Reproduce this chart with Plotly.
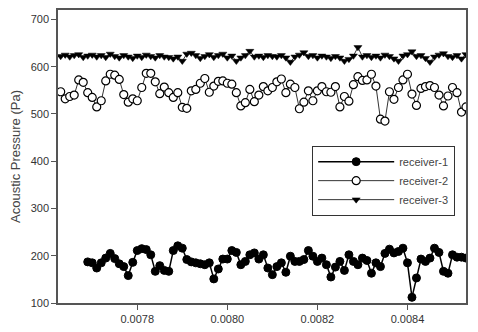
import numpy as np
import plotly.graph_objects as go

# time axis (s)
t2_start = 0.00763
t1_start = 0.00769
t_step = 1e-5

receiver_1 = [187, 185, 174, 185, 195, 205, 194, 183, 177, 158,
              186, 211, 215, 213, 202, 167, 179, 169, 167, 211,
              221, 216, 192, 187, 185, 183, 181, 185, 151, 172,
              193, 193, 211, 207, 181, 188, 202, 206, 193, 202,
              174, 160, 177, 185, 165, 199, 188, 188, 192, 211,
              199, 188, 195, 181, 155, 176, 188, 169, 202, 188,
              181, 195, 190, 163, 185, 177, 205, 214, 206, 209,
              216, 185, 112, 153, 193, 188, 195, 216, 207, 167,
              163, 202, 197, 197, 195]

receiver_2 = [547, 532, 537, 540, 572, 567, 545, 535, 515, 528,
              570, 584, 582, 573, 541, 525, 532, 528, 556, 586,
              586, 568, 543, 557, 545, 535, 545, 514, 512, 549,
              552, 565, 575, 546, 559, 569, 570, 565, 563, 545,
              517, 524, 552, 526, 540, 558, 549, 556, 568, 574,
              545, 563, 556, 511, 525, 549, 528, 549, 558, 547,
              546, 558, 515, 537, 527, 562, 579, 571, 572, 584,
              559, 489, 485, 547, 531, 556, 572, 584, 542, 518,
              554, 558, 560, 556, 540, 517, 538, 556, 545, 504,
              515]

receiver_3 = [622, 625, 621, 624, 626, 620, 623, 625, 621, 624,
              620, 627, 622, 619, 624, 621, 618, 623, 620, 625,
              622, 619, 624, 621, 620, 617, 621, 612, 627, 629,
              624, 618, 622, 626, 620, 624, 627, 619, 623, 612,
              619, 624, 633, 621, 623, 620, 624, 622, 621, 624,
              619, 610, 621, 625, 630, 622, 624, 619, 623, 621,
              618, 622, 619, 612, 616, 623, 641, 621, 624, 620,
              623, 619, 625, 622, 617, 612, 623, 626, 632, 622,
              624, 618, 610, 621, 625, 628, 622, 620, 624, 617,
              626]

x_ticks = [0.0078, 0.0080, 0.0082, 0.0084]
y_ticks = [100, 200, 300, 400, 500, 600, 700]

t1 = t1_start + t_step * np.arange(len(receiver_1))
t2 = t2_start + t_step * np.arange(len(receiver_2))
t3 = t2_start + t_step * np.arange(len(receiver_3))

fig = go.Figure()
fig.add_trace(go.Scatter(
    x=t1, y=receiver_1, name="receiver-1", mode="lines+markers",
    line=dict(color="black", width=1.5),
    marker=dict(symbol="circle", size=8, color="black", line=dict(color="black", width=1)),
))
fig.add_trace(go.Scatter(
    x=t2, y=receiver_2, name="receiver-2", mode="lines+markers",
    line=dict(color="#333333", width=1),
    marker=dict(symbol="circle", size=8, color="white", line=dict(color="black", width=1.2)),
))
fig.add_trace(go.Scatter(
    x=t3, y=receiver_3, name="receiver-3", mode="lines+markers",
    line=dict(color="#333333", width=1),
    marker=dict(symbol="triangle-down", size=7, color="black", line=dict(color="black", width=0.5)),
))

axis_common = dict(
    showline=True, linecolor="#555555", linewidth=1.5, mirror=True,
    ticks="outside", ticklen=5, tickcolor="#555555", tickwidth=1,
    showgrid=False, zeroline=False, automargin=False,
    tickfont=dict(family="Liberation Sans, Arial, sans-serif", size=11, color="#333333"),
)

fig.update_xaxes(range=[0.007624, 0.00853], tickvals=x_ticks,
                 ticktext=[f"{v:.4f}" for v in x_ticks], **axis_common)
fig.update_yaxes(range=[100, 720], tickvals=y_ticks,
                 title=dict(text="Acoustic Pressure (Pa)", standoff=12,
                            font=dict(family="Liberation Sans, Arial, sans-serif", size=13, color="#444444")),
                 **axis_common)

# page has an 8px body margin, so the figure is sized/offset to land on the 478x332 window
fig.update_layout(
    width=470, height=324,
    margin=dict(l=50, r=12, t=2, b=29),
    paper_bgcolor="white", plot_bgcolor="white",
    showlegend=True,
    legend=dict(x=0.6225, y=0.536, xanchor="left", yanchor="top",
                bordercolor="#333333", borderwidth=1.2, bgcolor="white",
                itemwidth=76,
                font=dict(family="Liberation Sans, Arial, sans-serif", size=11, color="#444444")),
)

fig.write_html("out.html")
